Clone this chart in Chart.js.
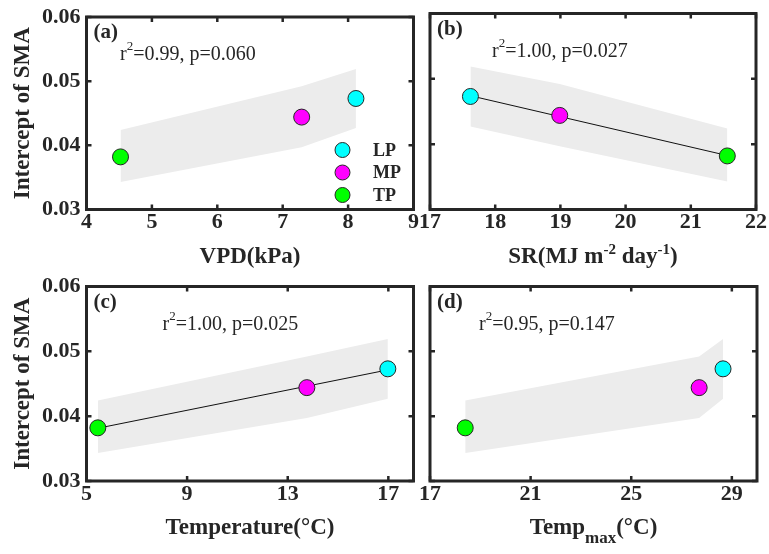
<!DOCTYPE html>
<html>
<head>
<meta charset="utf-8">
<title>Intercept of SMA</title>
<script src="https://cdn.jsdelivr.net/npm/chart.js@4.4.1/dist/chart.umd.min.js"></script>
<style>
  html, body { margin: 0; padding: 0; background: #fff; }
  #wrap { position: relative; width: 769px; height: 554px; background: #fff; }
  #wrap canvas { position: absolute; left: 0; top: 0; }
</style>
</head>
<body>
<div id="wrap">
  <canvas id="panelA" width="769" height="554"></canvas>
  <canvas id="panelB" width="769" height="554"></canvas>
  <canvas id="panelC" width="769" height="554"></canvas>
  <canvas id="panelD" width="769" height="554"></canvas>
</div>
<script>
// groups and their SMA intercepts
const groups = ['LP', 'MP', 'TP'];
const groupColors = ['#00ffff', '#ff00ff', '#00ff00'];
const intercept = [0.0473, 0.0444, 0.0382];

// shaded band (upper / lower) at each group
const bandUpper = [0.0519, 0.0492, 0.0424];
const bandLower = [0.0427, 0.0397, 0.0343];

// climate drivers per group
const vpd = [8.12, 7.29, 4.52];
const sr = [17.62, 18.99, 21.56];
const temperature = [16.98, 13.76, 5.45];
const tempMax = [28.65, 27.70, 18.40];

// tick labels
const yTicks = [0.03, 0.04, 0.05, 0.06];
const vpdTicks = [4, 5, 6, 7, 8, 9];
const srTicks = [17, 18, 19, 20, 21, 22];
const temperatureTicks = [5, 9, 13, 17];
const tempMaxTicks = [17, 21, 25, 29];

// fit statistics
const statsText = ['=0.99, p=0.060', '=1.00, p=0.027', '=1.00, p=0.025', '=0.95, p=0.147'];

const ink = '#262626';
const bandColor = '#ececec';
const serif = '"Liberation Serif", "Times New Roman", serif';
const W = 769, H = 554, xH = 60;

const panels = [
  { id: 'panelA', tag: '(a)', xs: vpd, xTicks: vpdTicks, min: 4, max: 9, fit: false, legend: true, yLabels: true,
    box: { left: 86.5, top: 13.5, right: 413.5, bottom: 209.5 }, statDx: 33.5, stats: statsText[0],
    title: [['VPD(kPa)', 23, 0]] },
  { id: 'panelB', tag: '(b)', xs: sr, xTicks: srTicks, min: 17, max: 22, fit: true, legend: false, yLabels: false,
    box: { left: 430, top: 13.5, right: 757, bottom: 209.5 }, statDx: 62, stats: statsText[1],
    title: [['SR(MJ m', 23, 0], ['-2', 15, -9], [' day', 23, 0], ['-1', 15, -9], [')', 23, 0]] },
  { id: 'panelC', tag: '(c)', xs: temperature, xTicks: temperatureTicks, min: 5, max: 18, fit: true, legend: false, yLabels: true,
    box: { left: 86.5, top: 286.5, right: 413.5, bottom: 481 }, statDx: 76, stats: statsText[2],
    title: [['Temperature(\u00B0C)', 23, 0]] },
  { id: 'panelD', tag: '(d)', xs: tempMax, xTicks: tempMaxTicks, min: 17, max: 30, fit: false, legend: false, yLabels: false,
    box: { left: 430, top: 286.5, right: 757, bottom: 481 }, statDx: 49, stats: statsText[3],
    title: [['Temp', 23, 0], ['max', 17, 9], ['(\u00B0C)', 23, 0]] }
];

function drawRich(ctx, parts, cx, baseY) {
  let total = 0;
  parts.forEach(p => {
    ctx.font = `bold ${p[1]}px ${serif}`;
    total += ctx.measureText(p[0]).width;
  });
  let x = cx - total / 2;
  ctx.textAlign = 'left';
  ctx.textBaseline = 'alphabetic';
  parts.forEach(p => {
    ctx.font = `bold ${p[1]}px ${serif}`;
    ctx.fillText(p[0], x, baseY + p[2]);
    x += ctx.measureText(p[0]).width;
  });
}

function decor(p) {
  return {
    id: 'decor',
    afterDraw(chart) {
      const { ctx, chartArea: a } = chart;
      const x = chart.scales.x, y = chart.scales.y;
      ctx.save();
      ctx.strokeStyle = ink;
      ctx.fillStyle = ink;

      // inward tick marks on all four sides
      ctx.lineWidth = 2.5;
      ctx.beginPath();
      p.xTicks.forEach(v => {
        const px = x.getPixelForValue(v);
        ctx.moveTo(px, a.bottom); ctx.lineTo(px, a.bottom - 5);
        ctx.moveTo(px, a.top); ctx.lineTo(px, a.top + 5);
      });
      yTicks.forEach(v => {
        const py = y.getPixelForValue(v);
        ctx.moveTo(a.left, py); ctx.lineTo(a.left + 5, py);
        ctx.moveTo(a.right, py); ctx.lineTo(a.right - 5, py);
      });
      ctx.stroke();

      // frame
      ctx.lineWidth = 3;
      ctx.strokeRect(a.left, a.top, a.right - a.left, a.bottom - a.top);

      // panel tag
      ctx.font = `bold 21px ${serif}`;
      ctx.textAlign = 'left';
      ctx.textBaseline = 'middle';
      ctx.fillText(p.tag, a.left + 7, a.top + 16);

      // r^2 and p
      let sx = a.left + p.statDx;
      const base = a.top + 43;
      ctx.textBaseline = 'alphabetic';
      ctx.font = `20px ${serif}`;
      ctx.fillText('r', sx, base);
      sx += ctx.measureText('r').width;
      ctx.font = `13px ${serif}`;
      ctx.fillText('2', sx, base - 10);
      sx += ctx.measureText('2').width;
      ctx.font = `20px ${serif}`;
      ctx.fillText(p.stats, sx, base);

      // legend
      if (p.legend) {
        groups.forEach((g, i) => {
          const cy = a.top + 133 + 22.5 * i;
          ctx.beginPath();
          ctx.arc(a.right - 71, cy, 7.5, 0, Math.PI * 2);
          ctx.fillStyle = groupColors[i];
          ctx.fill();
          ctx.lineWidth = 1;
          ctx.strokeStyle = ink;
          ctx.stroke();
          ctx.fillStyle = ink;
          ctx.font = `bold 18px ${serif}`;
          ctx.textBaseline = 'middle';
          ctx.fillText(g, a.right - 40.5, cy + 1);
        });
      }

      // x axis title
      ctx.fillStyle = ink;
      drawRich(ctx, p.title, (a.left + a.right) / 2, a.bottom + 53);
      ctx.restore();
    }
  };
}

function leastSquares(xs, ys) {
  const n = xs.length;
  const mx = xs.reduce((s, v) => s + v, 0) / n;
  const my = ys.reduce((s, v) => s + v, 0) / n;
  let sxy = 0, sxx = 0;
  xs.forEach((v, i) => { sxy += (v - mx) * (ys[i] - my); sxx += (v - mx) * (v - mx); });
  const b = sxy / sxx;
  return v => my + b * (v - mx);
}

function buildPanel(p) {
  const idx = p.xs.map((v, i) => i).sort((a, b) => p.xs[a] - p.xs[b]);
  const datasets = [
    { type: 'line', data: idx.map(i => ({ x: p.xs[i], y: bandUpper[i] })),
      borderWidth: 0, pointRadius: 0, fill: false, tension: 0, order: 3 },
    { type: 'line', data: idx.map(i => ({ x: p.xs[i], y: bandLower[i] })),
      borderWidth: 0, pointRadius: 0, fill: '-1', backgroundColor: bandColor, tension: 0, order: 3 }
  ];
  if (p.fit) {
    const f = leastSquares(p.xs, intercept);
    const x0 = Math.min(...p.xs), x1 = Math.max(...p.xs);
    datasets.push({ type: 'line', data: [{ x: x0, y: f(x0) }, { x: x1, y: f(x1) }],
      borderColor: '#111', borderWidth: 1, pointRadius: 0, fill: false, order: 2 });
  }
  groups.forEach((g, i) => {
    datasets.push({ label: g, data: [{ x: p.xs[i], y: intercept[i] }], showLine: false,
      pointRadius: 8, pointBackgroundColor: groupColors[i], pointBorderColor: ink, pointBorderWidth: 1, order: 0 });
  });

  const yW = p.yLabels ? p.box.left : 0;
  new Chart(document.getElementById(p.id), {
    type: 'line',
    data: { datasets },
    options: {
      responsive: false,
      animation: false,
      events: [],
      layout: { padding: { left: p.box.left - yW, top: p.box.top, right: W - p.box.right, bottom: H - p.box.bottom - xH } },
      plugins: { legend: { display: false }, tooltip: { enabled: false } },
      scales: {
        x: {
          type: 'linear', min: p.min, max: p.max,
          afterBuildTicks: s => { s.ticks = p.xTicks.map(v => ({ value: v })); },
          afterFit: s => { s.height = xH; },
          grid: { display: false, drawTicks: false },
          border: { display: false },
          ticks: { color: ink, padding: 2, maxRotation: 0, autoSkip: false,
            font: { family: serif, size: 22, weight: 'bold', lineHeight: 1 } }
        },
        y: {
          type: 'linear', min: 0.03, max: 0.06,
          afterBuildTicks: s => { s.ticks = yTicks.map(v => ({ value: v })); },
          afterFit: s => { s.width = yW; },
          grid: { display: false, drawTicks: false },
          border: { display: false },
          ticks: { display: p.yLabels, color: ink, padding: 6, callback: v => v.toFixed(2),
            font: { family: serif, size: 22, weight: 'bold', lineHeight: 1 } },
          title: { display: p.yLabels, text: 'Intercept of SMA', color: ink, padding: { top: 9, bottom: 0 },
            font: { family: serif, size: 23, weight: 'bold' } }
        }
      }
    },
    plugins: [decor(p)]
  });
}

panels.forEach(buildPanel);
</script>
</body>
</html>
